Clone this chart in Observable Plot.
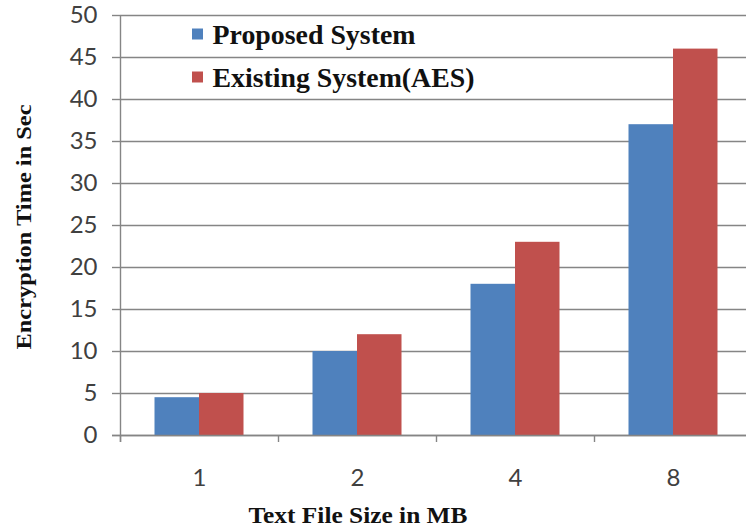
<!DOCTYPE html>
<html><head><meta charset="utf-8">
<script src="https://cdn.jsdelivr.net/npm/d3@7"></script>
<script src="https://cdn.jsdelivr.net/npm/@observablehq/plot@0.6"></script>
<style>body{margin:0;background:#fff;} svg{display:block;}</style>
</head><body><div id="chart"></div>
<script>
const fileSizes = ["1", "2", "4", "8"];
const proposed = [4.5, 10, 18, 37];
const existing = [5, 12, 23, 46];
const seriesNames = ["Proposed System", "Existing System(AES)"];
const seriesColors = ["#4F81BD", "#C0504D"];
const yTicks = [0, 5, 10, 15, 20, 25, 30, 35, 40, 45, 50];
const xTitle = "Text File Size in MB";
const yTitle = "Encryption Time in Sec";

const rows = fileSizes.map((s, i) => ({size: s, proposed: proposed[i], existing: existing[i]}));
const legend = seriesNames.map((name, i) => ({name, color: seriesColors[i]}));

const grey = "#858585";
const serif = "'Liberation Serif', 'Times New Roman', serif";
const band = 158, barW = 44.5, outer = (band - 2 * barW) / 2;

const legendMarks = legend.flatMap((d, i) => [
  Plot.dot([d], {frameAnchor: "top-left", dx: 77, dy: 18.5 + 43 * i, symbol: "square", r: 6.2, fill: d.color, stroke: "none"}),
  Plot.text([d], {frameAnchor: "top-left", dx: 92, dy: 28 + 43 * i, text: "name", lineAnchor: "bottom", textAnchor: "start",
    fontFamily: serif, fontWeight: "bold", fontSize: 27, fill: "#111", className: "leg" + i})
]);

const chart = Plot.plot({
  width: 746, height: 529,
  marginLeft: 120, marginRight: 0, marginTop: 15, marginBottom: 94,
  style: {background: "#fff", overflow: "visible"},
  x: {domain: fileSizes, range: [120, 120 + 4 * band], padding: 0},
  y: {domain: [0, 50]},
  marks: [
    Plot.gridY(yTicks, {stroke: grey, strokeOpacity: 1, strokeWidth: 1.4}),
    Plot.barY(rows, {x: "size", y: "proposed", fill: seriesColors[0], insetLeft: outer, insetRight: band - outer - barW}),
    Plot.barY(rows, {x: "size", y: "existing", fill: seriesColors[1], insetLeft: outer + barW, insetRight: outer}),
    Plot.ruleY([0], {stroke: grey, strokeWidth: 1.4, insetLeft: -8}),
    Plot.ruleX([fileSizes[0]], {dx: -band / 2, stroke: grey, strokeWidth: 1.4, insetBottom: -7}),
    Plot.axisX({tickSize: 7, dx: -band / 2, stroke: grey, strokeWidth: 1.4, text: null, label: null}),
    Plot.axisX({tickSize: 0, tickPadding: 33, fontFamily: "Lato", fontSize: 24, fill: "#404040", label: null}),
    Plot.axisY(yTicks, {tickSize: 8, tickPadding: 15, stroke: grey, strokeWidth: 1.4, fontFamily: "Lato", fontSize: 24, fill: "#404040", label: null}),
    Plot.text([yTitle], {frameAnchor: "left", dx: -97, dy: 1.5, rotate: -90, lineAnchor: "middle", textAnchor: "middle",
      fontFamily: serif, fontWeight: "bold", fontSize: 22, fill: "#111", className: "ytitle"}),
    Plot.text([xTitle], {frameAnchor: "bottom-left", dx: 237.5, dy: 87, lineAnchor: "bottom", textAnchor: "middle",
      fontFamily: serif, fontWeight: "bold", fontSize: 23, fill: "#111", className: "xtitle"}),
    ...legendMarks
  ]
});

const fit = [[".ytitle", 245], [".xtitle", 219], [".leg0", 203], [".leg1", 262]];
for (const [sel, len] of fit) {
  chart.querySelectorAll(sel + " text").forEach(t => {
    t.setAttribute("textLength", len);
    t.setAttribute("lengthAdjust", "spacingAndGlyphs");
  });
}
document.getElementById("chart").append(chart);
</script>
</body></html>
